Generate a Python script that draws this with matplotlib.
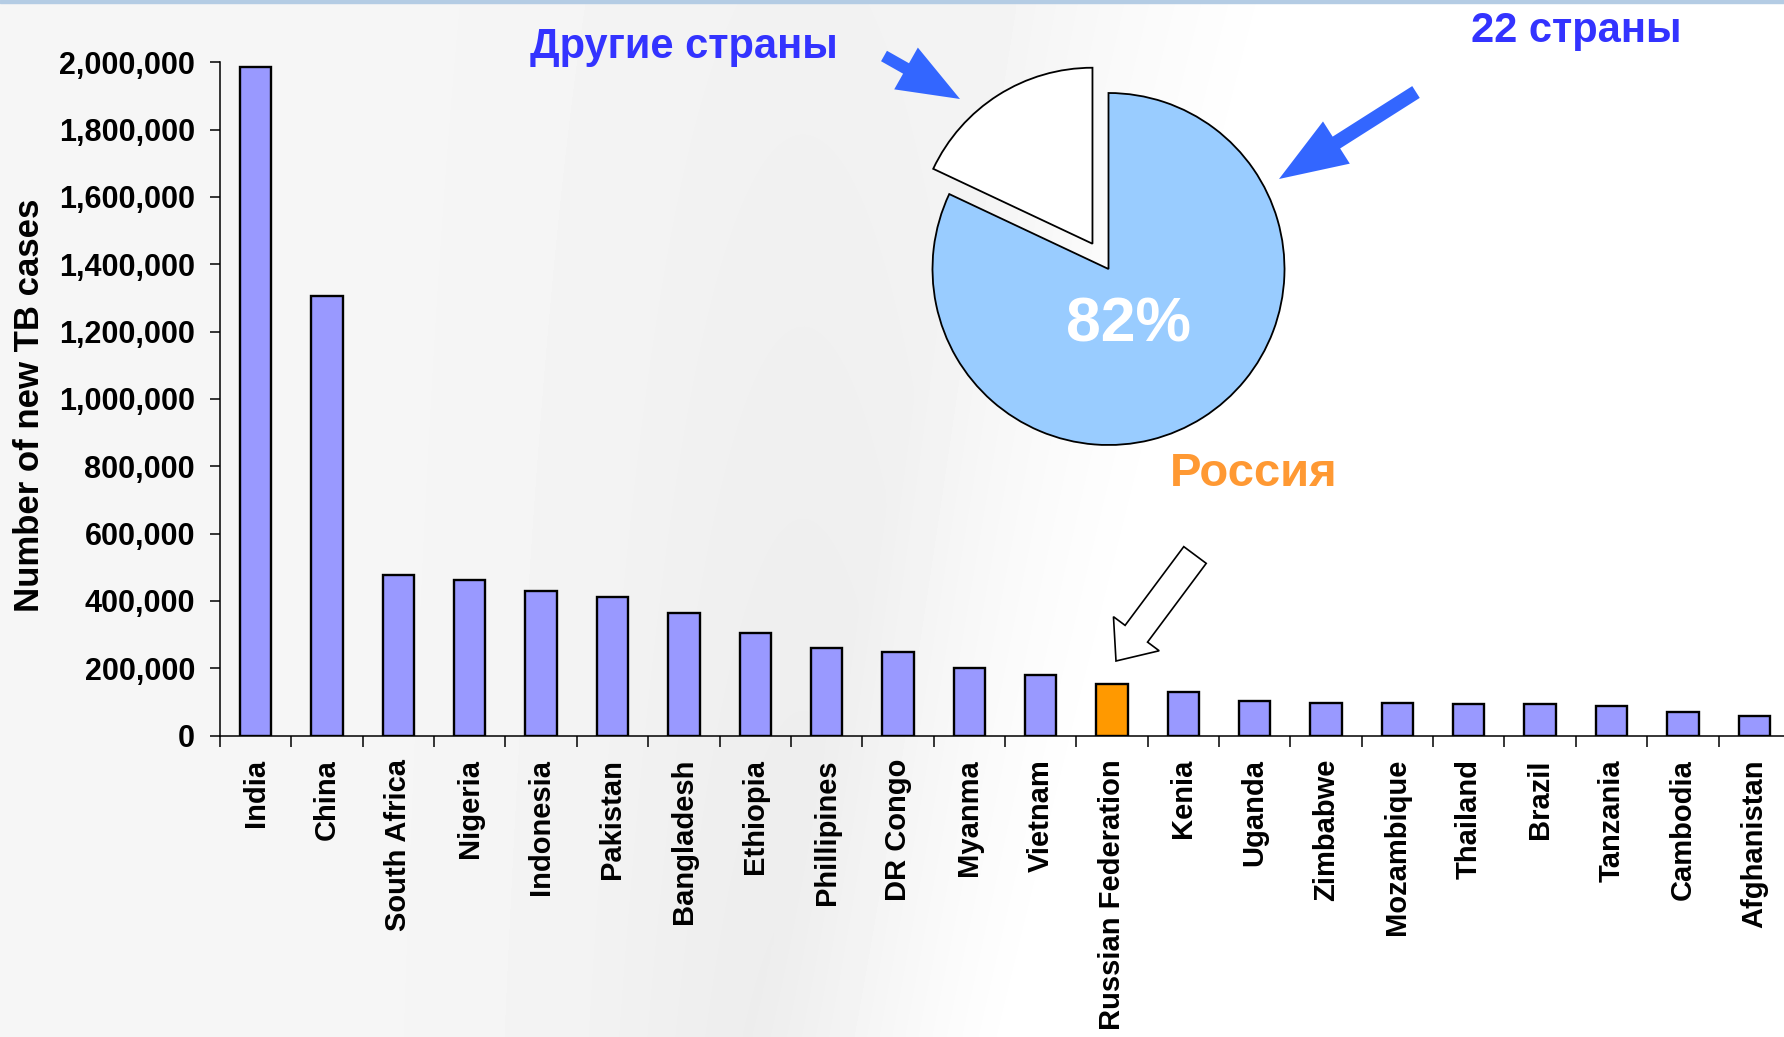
import matplotlib
matplotlib.use('Agg')
import matplotlib.pyplot as plt
import numpy as np
from matplotlib.patches import FancyArrow
from matplotlib.ticker import FuncFormatter

# Data
countries = ['India', 'China', 'South Africa', 'Nigeria', 'Indonesia', 'Pakistan',
             'Bangladesh', 'Ethiopia', 'Phillipines', 'DR Congo', 'Myanma', 'Vietnam',
             'Russian Federation', 'Kenia', 'Uganda', 'Zimbabwe', 'Mozambique',
             'Thailand', 'Brazil', 'Tanzania', 'Cambodia', 'Afghanistan']
new_cases = [1985000, 1305000, 478000, 461000, 430000, 410000, 363000, 305000,
             261000, 247000, 200000, 180000, 152000, 129000, 102000, 98000, 98000,
             95000, 94000, 88000, 71000, 57000]
highlight = 'Russian Federation'
highlight_label = 'Россия'

pie_labels = ['Другие страны', '22 страны']
pie_shares = [18, 82]

plt.rcParams['font.family'] = ['Liberation Sans', 'DejaVu Sans']
plt.rcParams['font.weight'] = 'bold'

W, H = 1784, 1037
fig = plt.figure(figsize=(W / 100, H / 100), dpi=100)
fig.patch.set_facecolor('white')

# background: soft grey gradient fading to white on the right
bg = fig.add_axes([0, 0, 1, 1], zorder=-10)
X, Y = np.meshgrid(np.linspace(0, 1, 400), np.linspace(0, 1, 240))
g = 0.962 - 0.035 * np.exp(-((X - 0.45) / 0.12) ** 2) * (0.4 + 0.6 * Y)
w = np.clip((X - 0.42 - 0.15 * (1 - Y)) / 0.15, 0, 1)
g = g * (1 - w) + w
bg.imshow(g, cmap='gray', vmin=0, vmax=1, extent=[0, W, H, 0], aspect='auto',
          interpolation='bilinear')
bg.axhspan(0, 3, color='#b4cce4')
bg.set_xlim(0, W)
bg.set_ylim(H, 0)
bg.axis('off')

# bar chart
cat_w = 71.36
ax = fig.add_axes([220 / W, 1 - 735.5 / H, 22 * cat_w / W, 673.2 / H])
ax.patch.set_alpha(0)
x = np.arange(len(countries))
colors = ['#FF9900' if c == highlight else '#9999FF' for c in countries]
ax.bar(x, new_cases, width=0.44, color=colors, edgecolor='black', linewidth=1.7,
       zorder=3)
ax.set_xlim(-0.5, len(countries) - 0.5)
ax.set_ylim(0, 2000000)
ax.spines['top'].set_visible(False)
ax.spines['right'].set_visible(False)
for s in ['left', 'bottom']:
    ax.spines[s].set_linewidth(1.1)

ax.set_yticks(range(0, 2000001, 200000))
ax.yaxis.set_major_formatter(FuncFormatter(lambda v, p: f'{int(v):,}'))
ax.tick_params(axis='y', length=7, width=1.1, pad=11, labelsize=22)

ax.set_xticks(x)
ax.set_xticklabels(countries, rotation=90, fontsize=21)
ax.tick_params(axis='x', which='major', length=0, pad=17)
ax.set_xticks(np.arange(-0.5, len(countries), 1), minor=True)
ax.tick_params(axis='x', which='minor', length=7.6, width=1.1)

ax.set_ylabel('Number of new TB cases', fontsize=25, fontweight='bold')
ax.yaxis.set_label_coords(-0.111, 0.49)

# inset pie
r_px = 176
half = 1.4 * r_px
pax = fig.add_axes([(1108.5 - half) / W, 1 - (269 + half) / H, 2 * half / W, 2 * half / H],
                   zorder=5)
pax.pie(pie_shares, colors=['white', '#99CCFF'], explode=[0.17, 0], startangle=90,
        counterclock=True, radius=1,
        wedgeprops=dict(edgecolor='black', linewidth=1.3))
pax.set_xlim(-1.4, 1.4)
pax.set_ylim(-1.4, 1.4)
pax.set_aspect('equal')
pax.axis('off')

# annotations in pixel coordinates
ov = fig.add_axes([0, 0, 1, 1], zorder=20)
ov.set_xlim(0, W)
ov.set_ylim(H, 0)
ov.axis('off')
ov.patch.set_alpha(0)

ov.text(684, 58, pie_labels[0], color='#3333FF', fontsize=30, ha='center', va='baseline')
ov.text(1576, 42, pie_labels[1], color='#3333FF', fontsize=30, ha='center', va='baseline')
ov.text(1254, 486, highlight_label, color='#FF9933', fontsize=34, ha='center', va='baseline')
ov.text(1128, 341, f'{pie_shares[1]}%', color='white', fontsize=45, ha='center',
        va='baseline')

ov.add_patch(FancyArrow(884, 56, 76, 43, width=12, head_width=48, head_length=62,
                        length_includes_head=True, color='#3366FF', lw=0))
ov.add_patch(FancyArrow(1416, 92, -137, 87, width=14, head_width=50, head_length=68,
                        length_includes_head=True, color='#3366FF', lw=0))
ov.add_patch(FancyArrow(1195, 555, -79, 106, width=28, head_width=57, head_length=34,
                        length_includes_head=True, facecolor='white', edgecolor='black',
                        lw=1.2))

fig.savefig('out.png', dpi=100)
